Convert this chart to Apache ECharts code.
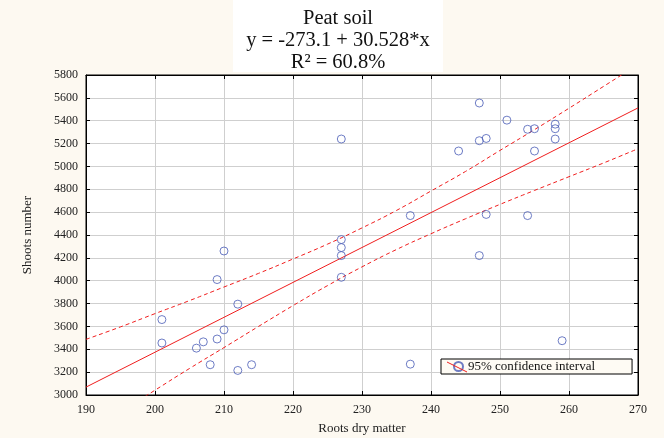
<!DOCTYPE html>
<html>
<head>
<meta charset="utf-8">
<script src="https://cdn.jsdelivr.net/npm/echarts@6/dist/echarts.min.js"></script>
<style>
    html, body {margin: 0; padding: 0; background: #fdf9f1;}
    #chart {width: 664px; height: 438px;}
</style>
</head>
<body>
<div id="chart"></div>
<script>
// roots dry matter / shoots number
var rootsDry = [201, 201, 206, 207, 209, 210, 208, 212, 214, 212, 210, 209,
    227, 227, 227, 227, 227, 237, 237,
    247, 251, 254, 255, 258, 258, 258, 247, 248, 244, 255, 248, 254, 247, 259];
var shoots = [3660, 3455, 3410, 3465, 3490, 3570, 3265, 3215, 3265, 3795, 4260, 4010,
    4360, 4290, 4220, 4030, 5240, 4570, 3270,
    5555, 5405, 5325, 5330, 5370, 5330, 5240, 5225, 5245, 5135, 5135, 4580, 4570, 4220, 3475];

// fitted line ends
var fitX = [190, 270];
var fitY = [3069, 5512];

// 95% band, read every 5 units
var bandX = [190, 195, 200, 205, 210, 215, 220, 225, 230, 235, 240, 245, 250, 255, 260, 265, 270];
var bandUpper = [3487, 3596, 3712, 3826, 3945, 4064, 4190, 4320, 4462, 4615, 4785, 4956, 5140, 5322, 5509, 5700, 5892];
var bandLower = [2657, 2850, 3042, 3232, 3415, 3600, 3782, 3957, 4121, 4273, 4411, 4542, 4668, 4790, 4910, 5030, 5155];

var titleLines = ['Peat soil', 'y = -273.1 + 30.528*x', 'R² = 60.8%'];
var xTicks = [190, 270, 10];
var yTicks = [3000, 5800, 200];

function pairs(xs, ys) {
    return xs.map(function (x, i) { return [x, ys[i]]; });
}

var serif = '"Liberation Serif", "DejaVu Serif", serif';
var red = '#f01e1e';
var blue = '#4a5db6';

var myChart = echarts.init(document.getElementById('chart'));

var axisLine = {show: true, lineStyle: {color: '#000', width: 1}};
var axisTick = {show: true, inside: true, length: 4, lineStyle: {color: '#000'}};

var option = {
    backgroundColor: '#fdf9f1',
    animation: false,
    legend: {
        left: 441,
        top: 359,
        data: [{name: '95% confidence interval', icon: 'circle'}],
        backgroundColor: '#fefbf4',
        borderColor: '#000',
        borderWidth: 1,
        padding: [1, 37, 1, 12],
        itemWidth: 9,
        itemHeight: 9,
        itemGap: 4,
        textStyle: {fontFamily: serif, fontSize: 13, color: '#111'}
    },
    grid: {
        left: 86,
        right: 26,
        top: 75,
        bottom: 43,
        outerBoundsMode: 'none',
        containLabel: false,
        show: true,
        backgroundColor: '#fff',
        borderColor: '#000',
        borderWidth: 1
    },
    xAxis: [{
        type: 'value',
        min: xTicks[0],
        max: xTicks[1],
        interval: xTicks[2],
        name: 'Roots dry matter',
        nameLocation: 'middle',
        nameGap: 27,
        nameTextStyle: {fontFamily: serif, fontSize: 13, color: '#222'},
        axisLabel: {fontFamily: serif, fontSize: 12, color: '#222', margin: 9},
        splitLine: {show: true, lineStyle: {color: '#cfcfcf', width: 1}},
        axisLine: axisLine,
        axisTick: axisTick
    }, {
        type: 'value',
        position: 'top',
        min: xTicks[0],
        max: xTicks[1],
        interval: xTicks[2],
        axisLabel: {show: false},
        splitLine: {show: false},
        axisLine: axisLine,
        axisTick: axisTick
    }],
    yAxis: [{
        type: 'value',
        min: yTicks[0],
        max: yTicks[1],
        interval: yTicks[2],
        name: 'Shoots number',
        nameLocation: 'middle',
        nameGap: 52,
        nameTextStyle: {fontFamily: serif, fontSize: 13, color: '#222'},
        axisLabel: {
            fontFamily: serif, fontSize: 12, color: '#222', margin: 8,
            formatter: function (v) { return String(v); }
        },
        splitLine: {show: true, lineStyle: {color: '#cfcfcf', width: 1}},
        axisLine: axisLine,
        axisTick: axisTick
    }, {
        type: 'value',
        position: 'right',
        min: yTicks[0],
        max: yTicks[1],
        interval: yTicks[2],
        axisLabel: {show: false},
        splitLine: {show: false},
        axisLine: axisLine,
        axisTick: axisTick
    }],
    series: [{
        name: 'fit',
        type: 'line',
        data: pairs(fitX, fitY),
        symbol: 'none',
        lineStyle: {color: red, width: 1},
        silent: true
    }, {
        name: 'upper',
        type: 'line',
        data: pairs(bandX, bandUpper),
        smooth: true,
        symbol: 'none',
        lineStyle: {color: red, width: 1, type: [4, 3]},
        silent: true
    }, {
        name: 'lower',
        type: 'line',
        data: pairs(bandX, bandLower),
        smooth: true,
        symbol: 'none',
        lineStyle: {color: red, width: 1, type: [4, 3]},
        silent: true
    }, {
        name: '95% confidence interval',
        type: 'scatter',
        data: pairs(rootsDry, shoots),
        symbol: 'circle',
        symbolSize: 8,
        z: 5,
        itemStyle: {color: 'rgba(255,255,255,0)', borderColor: blue, borderWidth: 1}
    }],
    graphic: [{
        type: 'rect',
        shape: {x: 233, y: 0, width: 210, height: 72},
        style: {fill: '#fff'},
        z: 100
    }, {
        type: 'text',
        x: 338,
        y: 8,
        z: 101,
        style: {
            text: titleLines.join('\n'),
            fill: '#111',
            font: '20.5px ' + serif,
            lineHeight: 22,
            align: 'center',
            verticalAlign: 'top'
        }
    }, {
        type: 'line',
        shape: {x1: 447, y1: 362, x2: 467, y2: 372},
        style: {stroke: red, lineWidth: 1},
        z: 200
    }]
};

if (option && typeof option === "object") {
    myChart.setOption(option, true);
}
</script>
</body>
</html>
